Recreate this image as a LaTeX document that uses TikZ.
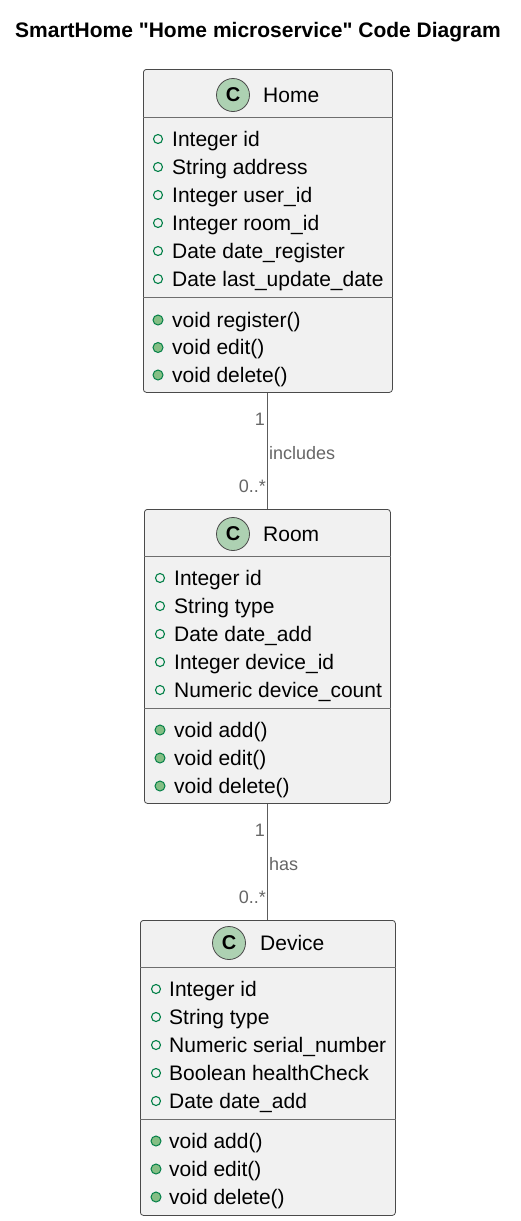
\documentclass[tikz,border=0pt]{standalone}
\usepackage{fontspec}
\setmainfont{Liberation Sans}[Ligatures=TeXOff]
\usetikzlibrary{positioning}
\definecolor{boxfill}{HTML}{F1F1F1}
\definecolor{boxline}{HTML}{4A4A4A}
\definecolor{cfill}{HTML}{ADD1B2}
\definecolor{attrgreen}{HTML}{038048}
\definecolor{methfill}{HTML}{84BE84}
\definecolor{lblgray}{HTML}{666666}

\begin{document}
\begin{tikzpicture}[
    x=1pt, y=-1pt,
    cls/.style={draw=boxline, fill=boxfill, rounded corners=3pt, line width=0.8pt,
                inner sep=0pt, anchor=north west},
    badge/.style={circle, draw=boxline, fill=cfill, line width=0.8pt, minimum size=33pt,
                  inner sep=0pt, font=\fontsize{20}{20}\selectfont\bfseries},
    cname/.style={font=\fontsize{21}{24}\selectfont, inner sep=0pt, anchor=west},
    attr/.style={font=\fontsize{21}{24}\selectfont, inner sep=0pt, anchor=base west},
    abul/.style={circle, draw=attrgreen, line width=1.1pt, minimum size=9pt, inner sep=0pt},
    mbul/.style={circle, draw=attrgreen, fill=methfill, line width=1pt, minimum size=10pt, inner sep=0pt},
    sep/.style={draw=boxline!80, line width=0.8pt},
    assoc/.style={draw=boxline!90, line width=0.9pt},
    mult/.style={font=\fontsize{18}{20}\selectfont, text=lblgray, inner sep=0pt},
    title/.style={font=\fontsize{21}{24}\selectfont\bfseries, inner sep=0pt, anchor=base},
]
\useasboundingbox[fill=white] (0,0) rectangle (521,1221);

\node[title] (title) at (258,37) {SmartHome "Home microservice" Code Diagram};

% Home
\node[cls, minimum width=249pt, minimum height=323pt] (home) at (143,69) {};
\draw[sep] (home.west |- 0,117) -- (home.east |- 0,117);
\draw[sep] (home.west |- 0,297) -- (home.east |- 0,297);
\node[badge] (homec) at (233,95) {C};
\node[cname] (homet) at (263,95) {Home};
\foreach \t [count=\i] in {Integer id, String address, Integer user\_id, Integer room\_id,
                           Date date\_register, Date last\_update\_date} {
  \node[abul] (homeab\i) at (158,{111+28*\i}) {};
  \node[attr] (homea\i) at (172,{118+28*\i}) {\t};
}
\foreach \t [count=\i] in {void register(), void edit(), void delete()} {
  \node[mbul] (homemb\i) at (158,{292.5+27.5*\i}) {};
  \node[attr] (homem\i) at (172,{299.5+27.5*\i}) {\t};
}

% Room
\node[cls, minimum width=246pt, minimum height=294pt] (room) at (144,509) {};
\draw[sep] (room.west |- 0,556) -- (room.east |- 0,556);
\draw[sep] (room.west |- 0,708) -- (room.east |- 0,708);
\node[badge] (roomc) at (233,534) {C};
\node[cname] (roomt) at (263,534) {Room};
\foreach \t [count=\i] in {Integer id, String type, Date date\_add, Integer device\_id,
                           Numeric device\_count} {
  \node[abul] (roomab\i) at (160,{550+28*\i}) {};
  \node[attr] (rooma\i) at (174,{557+28*\i}) {\t};
}
\foreach \t [count=\i] in {void add(), void edit(), void delete()} {
  \node[mbul] (roommb\i) at (160,{702+28*\i}) {};
  \node[attr] (roomm\i) at (174,{709+28*\i}) {\t};
}

% Device
\node[cls, minimum width=255pt, minimum height=295pt] (device) at (140,920) {};
\draw[sep] (device.west |- 0,967) -- (device.east |- 0,967);
\draw[sep] (device.west |- 0,1119) -- (device.east |- 0,1119);
\node[badge] (devicec) at (229,943) {C};
\node[cname] (devicet) at (260,943) {Device};
\foreach \t [count=\i] in {Integer id, String type, Numeric serial\_number,
                           Boolean healthCheck, Date date\_add} {
  \node[abul] (deviceab\i) at (156,{961+28*\i}) {};
  \node[attr] (devicea\i) at (169,{968+28*\i}) {\t};
}
\foreach \t [count=\i] in {void add(), void edit(), void delete()} {
  \node[mbul] (devicemb\i) at (156,{1113+28*\i}) {};
  \node[attr] (devicem\i) at (169,{1120+28*\i}) {\t};
}

% associations
\draw[assoc] (home.south) -- (home.south |- room.north);
\node[mult, anchor=base east] (hr1) at (265,425) {1};
\node[mult, anchor=base west] (hrl) at (269,459) {includes};
\node[mult, anchor=base east] (hr2) at (266,492) {0..*};

\draw[assoc] (room.south) -- (room.south |- device.north);
\node[mult, anchor=base east] (rd1) at (265,836) {1};
\node[mult, anchor=base west] (rdl) at (269,870) {has};
\node[mult, anchor=base east] (rd2) at (266,903) {0..*};
\end{tikzpicture}
\end{document}
